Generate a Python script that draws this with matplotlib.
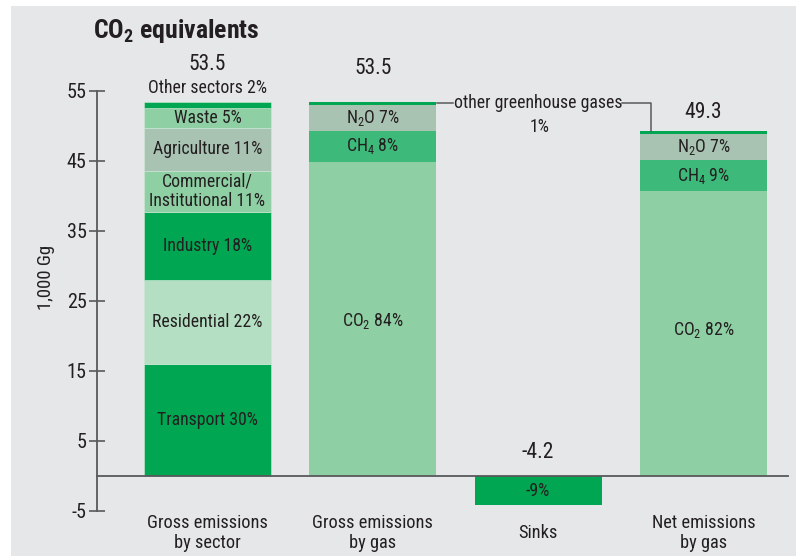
import matplotlib
matplotlib.use("Agg")
import matplotlib.pyplot as plt
from matplotlib.patches import Rectangle
from matplotlib import font_manager

names = {f.name for f in font_manager.fontManager.ttflist}
FONT = 'Roboto Condensed' if 'Roboto Condensed' in names else 'DejaVu Sans'
plt.rcParams['font.family'] = [FONT, 'DejaVu Sans']
plt.rcParams['mathtext.fontset'] = 'custom'
plt.rcParams['mathtext.rm'] = FONT
plt.rcParams['mathtext.it'] = FONT
plt.rcParams['mathtext.bf'] = FONT + ':bold'

# ---- data ----
categories = ["Gross emissions\nby sector", "Gross emissions\nby gas", "Sinks", "Net emissions\nby gas"]
totals = [53.5, 53.5, -4.2, 49.3]
total_labels = ["53.5", "53.5", "-4.2", "49.3"]

sector_names = ["Transport 30%", "Residential 22%", "Industry 18%",
                "Commercial/\nInstitutional 11%", "Agriculture 11%", "Waste 5%", "Other sectors 2%"]
sector_values = [16.0, 12.0, 9.7, 5.9, 6.1, 2.9, 0.9]

gross_gas_names = ["CO$_2$ 84%", "CH$_4$ 8%", "N$_2$O 7%", "other greenhouse gases"]
gross_gas_values = [44.9, 4.4, 3.7, 0.5]

net_gas_names = ["CO$_2$ 82%", "CH$_4$ 9%", "N$_2$O 7%", "other"]
net_gas_values = [40.7, 4.4, 3.7, 0.5]

sinks_value = -4.2
sinks_label = "-9%"

yticks = [-5, 5, 15, 25, 35, 45, 55]

# ---- style ----
DARK = '#00a651'
LIGHT = '#8fcfa4'
PALE = '#b5dfc3'
GREY = '#a9c3b3'
MID = '#3dba7a'
BG = '#e6e7e9'
TXT = '#231f20'
LINE = '#58595b'

sector_colors = [DARK, PALE, DARK, LIGHT, GREY, LIGHT, DARK]
gas_colors = [LIGHT, MID, GREY, DARK]

W, H = 796, 556
fig = plt.figure(figsize=(W / 100, H / 100), dpi=100, facecolor='white')
fig.add_artist(Rectangle((11 / W, 0), 1 - 11 / W, 1 - 6 / H, transform=fig.transFigure,
                         facecolor=BG, edgecolor='none', zorder=0))
ax = fig.add_axes([0, 0, 1, 1])
ax.set_facecolor('none')

sp = 165.3
ax.set_xlim(-207.5 / sp, (W - 207.5) / sp)
ax.set_ylim((476 - H) / 7, 476 / 7)

def px(p):
    return (p - 207.5) / sp

def py(p):
    return (476 - p) / 7

bw = 127 / sp
x = [0, 1, 2, 3]

bottom = 0
for v, c in zip(sector_values, sector_colors):
    ax.bar(x[0], v, bottom=bottom, width=bw, color=c, edgecolor='#cfe9d7', linewidth=0.4, zorder=2)
    bottom += v
bottom = 0
for v, c in zip(gross_gas_values, gas_colors):
    ax.bar(x[1], v, bottom=bottom, width=bw, color=c, edgecolor='none', zorder=2)
    bottom += v
ax.bar(x[2], sinks_value, width=bw, color=DARK, edgecolor='none', zorder=2)
bottom = 0
for v, c in zip(net_gas_values, gas_colors):
    ax.bar(x[3], v, bottom=bottom, width=bw, color=c, edgecolor='none', zorder=2)
    bottom += v

for s in ['top', 'right', 'bottom']:
    ax.spines[s].set_visible(False)
ax.spines['left'].set_position(('data', px(97)))
ax.spines['left'].set_bounds(-5, 55)
ax.spines['left'].set_color(LINE)
ax.spines['left'].set_linewidth(1.3)
ax.set_yticks(yticks)
ax.set_yticklabels([str(t) for t in yticks])
ax.tick_params(axis='y', direction='inout', length=11, width=1.2, color=LINE,
               labelsize=14.5, labelcolor=TXT, pad=2)
ax.set_xticks([])
ax.plot([px(97), px(788)], [0, 0], color=LINE, lw=1.3, zorder=3)

ax.text(px(46), py(277), "1,000 Gg", rotation=90, ha='center', va='center',
        fontsize=13.5, color=TXT)

fig.text(93 / W, 1 - 31 / H, r"CO$_\mathbf{2}$ equivalents", fontsize=18.5, fontweight='bold',
         color=TXT, ha='left', va='center')

def cum_mid(vals, i):
    return sum(vals[:i]) + vals[i] / 2

lab_fs = 12.8
for i, name in enumerate(sector_names[:-1]):
    ax.text(x[0], cum_mid(sector_values, i), name, ha='center', va='center',
            fontsize=lab_fs, color=TXT, zorder=4, linespacing=1.1)
ax.text(x[0], py(88), sector_names[-1], ha='center', va='center', fontsize=lab_fs, color=TXT)
ax.text(x[0], py(65), total_labels[0], ha='center', va='center', fontsize=15.5, color=TXT)

for i, name in enumerate(gross_gas_names[:3]):
    yy = py(321) if i == 0 else cum_mid(gross_gas_values, i)
    ax.text(x[1], yy, name, ha='center', va='center', fontsize=lab_fs, color=TXT, zorder=4)
ax.text(x[1], py(68), total_labels[1], ha='center', va='center', fontsize=15.5, color=TXT)

for i, name in enumerate(net_gas_names[:3]):
    yy = py(330) if i == 0 else cum_mid(net_gas_values, i)
    ax.text(x[3], yy, name, ha='center', va='center', fontsize=lab_fs, color=TXT, zorder=4)
ax.text(x[3], py(113), total_labels[3], ha='center', va='center', fontsize=15.5, color=TXT)

ax.text(x[2], py(452), total_labels[2], ha='center', va='center', fontsize=15.5, color=TXT)
ax.text(x[2], sinks_value / 2, sinks_label, ha='center', va='center', fontsize=lab_fs, color=TXT, zorder=4)

ya = py(103)
ax.text(px(538), ya, gross_gas_names[3], ha='center', va='center', fontsize=lab_fs, color=TXT)
ax.text(px(540), py(127), "1%", ha='center', va='center', fontsize=lab_fs, color=TXT)
ax.plot([px(437), px(453)], [ya, ya], color=LINE, lw=1.1)
ax.plot([px(622), px(651), px(651)], [ya, ya, sum(net_gas_values)], color=LINE, lw=1.1)

for xi, c in zip(x, categories):
    ax.text(xi, py(533), c, ha='center', va='center', fontsize=13.2, color=TXT,
            linespacing=1.2)

fig.savefig("out.png", dpi=100, facecolor='white')
